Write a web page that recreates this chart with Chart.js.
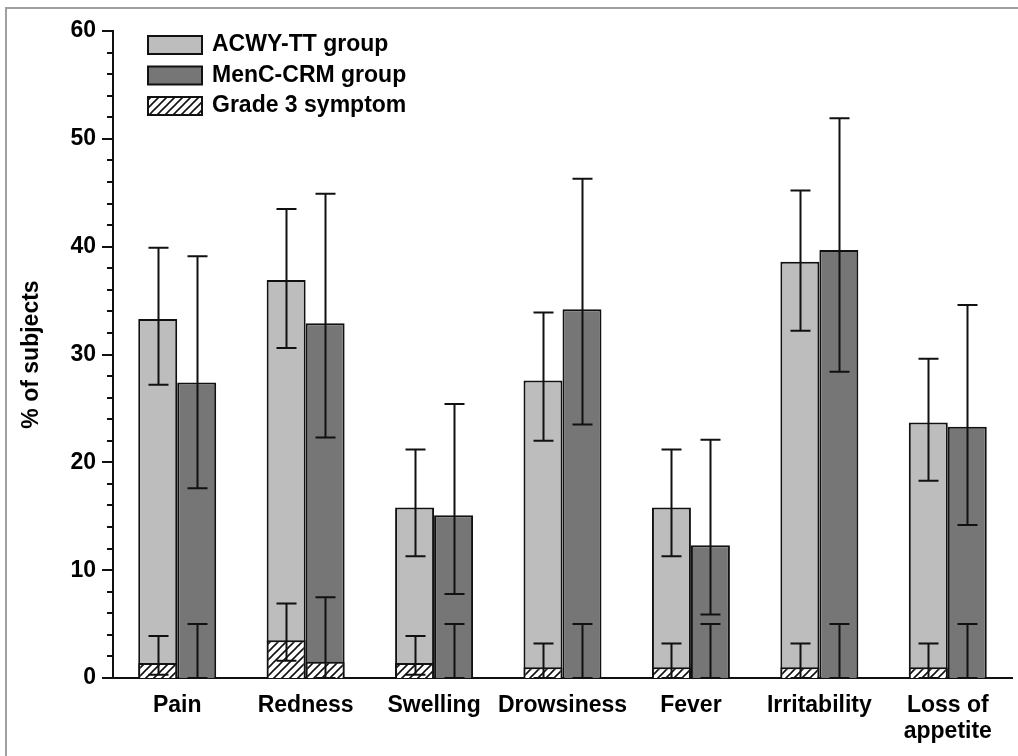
<!DOCTYPE html>
<html>
<head>
<meta charset="utf-8">
<script src="https://cdn.jsdelivr.net/npm/chart.js@4.4.1/dist/chart.umd.min.js"></script>
<style>
html,body{margin:0;padding:0;background:#fff;}
#wrap{position:relative;width:1018px;height:756px;overflow:hidden;}
#frame{position:absolute;left:5px;top:7px;width:1100px;height:900px;border-left:2px solid #a0a0a0;border-top:2px solid #a0a0a0;}
canvas{position:absolute;left:0;top:0;}
</style>
</head>
<body>
<div id="wrap">
<div id="frame"></div>
<canvas id="chart" width="1018" height="756"></canvas>
</div>
<script>
const categories=["Pain","Redness","Swelling","Drowsiness","Fever","Irritability",["Loss of","appetite"]];

// percentage of subjects with any symptom
const acwy=[33.3,36.9,15.8,27.6,15.8,38.6,23.7];
const acwyLow=[27.2,30.6,11.3,22.0,11.3,32.2,18.3];
const acwyHigh=[39.9,43.5,21.2,33.9,21.2,45.2,29.6];

const menc=[27.4,32.9,15.1,34.2,12.3,39.7,23.3];
const mencLow=[17.6,22.3,7.8,23.5,5.9,28.4,14.2];
const mencHigh=[39.1,44.9,25.4,46.3,22.1,51.9,34.6];

// grade 3 part
const acwyG3=[1.4,3.5,1.4,1.0,1.0,1.0,1.0];
const acwyG3Low=[0.3,1.6,0.3,0,0,0,0];
const acwyG3High=[3.9,6.9,3.9,3.2,3.2,3.2,3.2];

const mencG3=[0,1.5,0,0,0,0,0];
const mencG3Low=[0,0,0,0,0,0,0];
const mencG3High=[5.0,7.5,5.0,5.0,5.0,5.0,5.0];

const yTicks=[0,10,20,30,40,50,60];

const FONT="'Liberation Sans', Arial, sans-serif";

function hatch(){
const c=document.createElement("canvas");
c.width=8;c.height=8;
const g=c.getContext("2d");
g.fillStyle="#fff";g.fillRect(0,0,8,8);
g.strokeStyle="#111";g.lineWidth=1.6;
g.beginPath();
g.moveTo(-1,9);g.lineTo(9,-1);
g.moveTo(-1,1);g.lineTo(1,-1);
g.moveTo(7,9);g.lineTo(9,7);
g.stroke();
return g.createPattern(c,"repeat");
}
const hatchFill=hatch();

const errorSets=[
{ds:0,lo:acwyLow,hi:acwyHigh},
{ds:1,lo:mencLow,hi:mencHigh},
{ds:2,lo:acwyG3Low,hi:acwyG3High},
{ds:3,lo:mencG3Low,hi:mencG3High}
];

const errorBars={
id:"errorBars",
afterDatasetsDraw(chart){
const ctx=chart.ctx,y=chart.scales.y;
ctx.save();
ctx.strokeStyle="#111";ctx.lineWidth=2;
errorSets.forEach(s=>{
const meta=chart.getDatasetMeta(s.ds);
meta.data.forEach((bar,i)=>{
const x=Math.round(bar.x)+0.5;
const top=y.getPixelForValue(s.hi[i]);
const bot=y.getPixelForValue(s.lo[i]);
ctx.beginPath();
ctx.moveTo(x,top);ctx.lineTo(x,bot);
ctx.moveTo(x-10,top);ctx.lineTo(x+10,top);
ctx.moveTo(x-10,bot);ctx.lineTo(x+10,bot);
ctx.stroke();
});
});
ctx.restore();
}
};

// y axis ticks: major every 10, minor every 2
const yAxisTicks={
id:"yAxisTicks",
afterDraw(chart){
const ctx=chart.ctx,y=chart.scales.y,left=chart.chartArea.left;
ctx.save();
ctx.strokeStyle="#111";ctx.lineWidth=2;
for(let v=0;v<=60;v+=2){
const p=Math.round(y.getPixelForValue(v));
const len=(v%10===0)?11:6;
ctx.beginPath();ctx.moveTo(left-len,p);ctx.lineTo(left,p);ctx.stroke();
}
ctx.restore();
}
};

const legendBox={
id:"legendBox",
afterDraw(chart){
const ctx=chart.ctx;
const items=[
{label:"ACWY-TT group",fill:"#bdbdbd"},
{label:"MenC-CRM group",fill:"#767676"},
{label:"Grade 3 symptom",fill:hatchFill}
];
ctx.save();
ctx.font="bold 23px "+FONT;
ctx.textBaseline="middle";
items.forEach((it,i)=>{
const top=36+i*30.5;
ctx.fillStyle=it.fill;
ctx.fillRect(148,top,54,18);
ctx.strokeStyle="#111";ctx.lineWidth=2;
ctx.strokeRect(148,top,54,18);
ctx.fillStyle="#000";
ctx.fillText(it.label,212,top+9);
});
ctx.restore();
}
};

const barOpts={categoryPercentage:0.607,barPercentage:1.0,borderColor:"#111",borderWidth:2};

new Chart(document.getElementById("chart"),{
type:"bar",
data:{
labels:categories,
datasets:[
{label:"ACWY-TT group",data:acwy,backgroundColor:"#bdbdbd",stack:"a",order:1,...barOpts},
{label:"MenC-CRM group",data:menc,backgroundColor:"#767676",stack:"b",order:1,...barOpts},
{label:"Grade 3 ACWY",data:acwyG3,backgroundColor:hatchFill,stack:"a",order:0,...barOpts},
{label:"Grade 3 MenC",data:mencG3,backgroundColor:hatchFill,stack:"b",order:0,...barOpts}
]
},
plugins:[errorBars,yAxisTicks,legendBox],
options:{
responsive:false,
animation:false,
layout:{padding:{top:31,right:6,left:0,bottom:0}},
plugins:{legend:{display:false},tooltip:{enabled:false}},
scales:{
x:{
type:"category",
offset:true,
grid:{display:false,drawTicks:false},
border:{display:true,color:"#111",width:2},
ticks:{color:"#000",font:{family:FONT,size:23,weight:"bold",lineHeight:1.15},padding:14,maxRotation:0,autoSkip:false},
afterFit(s){s.height=78;}
},
y:{
min:0,max:60,
stacked:false,
afterBuildTicks(s){s.ticks=yTicks.map(v=>({value:v}));},
grid:{display:false,drawTicks:false},
border:{display:true,color:"#111",width:2},
ticks:{color:"#000",font:{family:FONT,size:23,weight:"bold"},padding:17},
title:{display:true,text:"% of subjects",color:"#000",font:{family:FONT,size:23,weight:"bold"},padding:{top:18,bottom:0}},
afterFit(s){s.width=113;}
}
}
}
});
</script>
</body>
</html>
